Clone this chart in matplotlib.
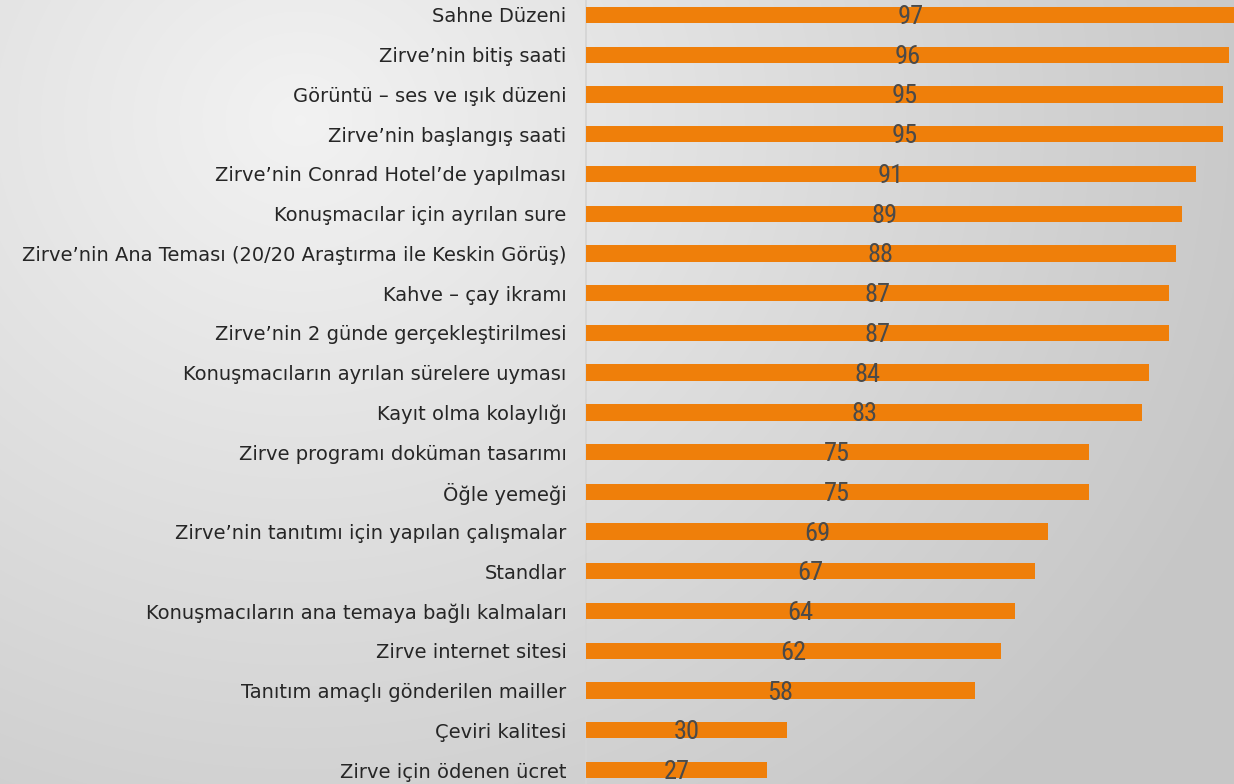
import numpy as np
import matplotlib
matplotlib.use("Agg")
import matplotlib.pyplot as plt
from matplotlib import font_manager

categories = [
    "Sahne Düzeni",
    "Zirve’nin bitiş saati",
    "Görüntü – ses ve ışık düzeni",
    "Zirve’nin başlangış saati",
    "Zirve’nin Conrad Hotel’de yapılması",
    "Konuşmacılar için ayrılan sure",
    "Zirve’nin Ana Teması (20/20 Araştırma ile Keskin Görüş)",
    "Kahve – çay ikramı",
    "Zirve’nin 2 günde gerçekleştirilmesi",
    "Konuşmacıların ayrılan sürelere uyması",
    "Kayıt olma kolaylığı",
    "Zirve programı doküman tasarımı",
    "Öğle yemeği",
    "Zirve’nin tanıtımı için yapılan çalışmalar",
    "Standlar",
    "Konuşmacıların ana temaya bağlı kalmaları",
    "Zirve internet sitesi",
    "Tanıtım amaçlı gönderilen mailler",
    "Çeviri kalitesi",
    "Zirve için ödenen ücret",
]
values = [97, 96, 95, 95, 91, 89, 88, 87, 87, 84, 83, 75, 75, 69, 67, 64, 62, 58, 30, 27]

available = {f.name for f in font_manager.fontManager.ttflist}
num_family = [f for f in ["Liberation Sans Narrow", "DejaVu Sans Condensed", "Roboto Condensed", "DejaVu Sans"] if f in available]

W, H = 1234, 784
fig = plt.figure(figsize=(W / 100, H / 100), dpi=100)

# background gradient
bg = fig.add_axes([0, 0, 1, 1], zorder=-10)
yy, xx = np.mgrid[0:H, 0:W]
d = np.sqrt(((xx - 300) / 1000.0) ** 2 + ((yy - 120) / 900.0) ** 2)
d = np.clip(d, 0, 1)
lum = 0.95 - 0.17 * d
img = np.dstack([lum, lum, lum])
bg.imshow(img, extent=[0, 1, 0, 1], aspect="auto", origin="upper")
bg.axis("off")

left = 586 / W
top_px = 15 - 19.87
bot_px = 770 + 19.87
ax = fig.add_axes([left, 1 - bot_px / H, 1 - left, (bot_px - top_px) / H])
ax.patch.set_alpha(0)

y = np.arange(len(categories))
ax.barh(y, values, height=0.41, color="#EF7F0A", zorder=3)
ax.set_ylim(len(categories) - 0.5, -0.5)
ax.set_xlim(0, (W - 586) / 6.7)

ax.set_yticks(y)
ax.set_yticklabels(categories, fontsize=14, color="#262626", family="DejaVu Sans")
ax.tick_params(axis="y", length=0, pad=14)
ax.set_xticks([])
for s in ["top", "right", "bottom"]:
    ax.spines[s].set_visible(False)
ax.spines["left"].set_color("#d4d4d4")
ax.spines["left"].set_linewidth(1.2)

for yi, v in zip(y, values):
    ax.text(v / 2, yi + 0.05, str(v), ha="center", va="center",
            fontsize=19, color="#4a4a4a", family=num_family, zorder=4)

fig.savefig("out.png", dpi=100)
